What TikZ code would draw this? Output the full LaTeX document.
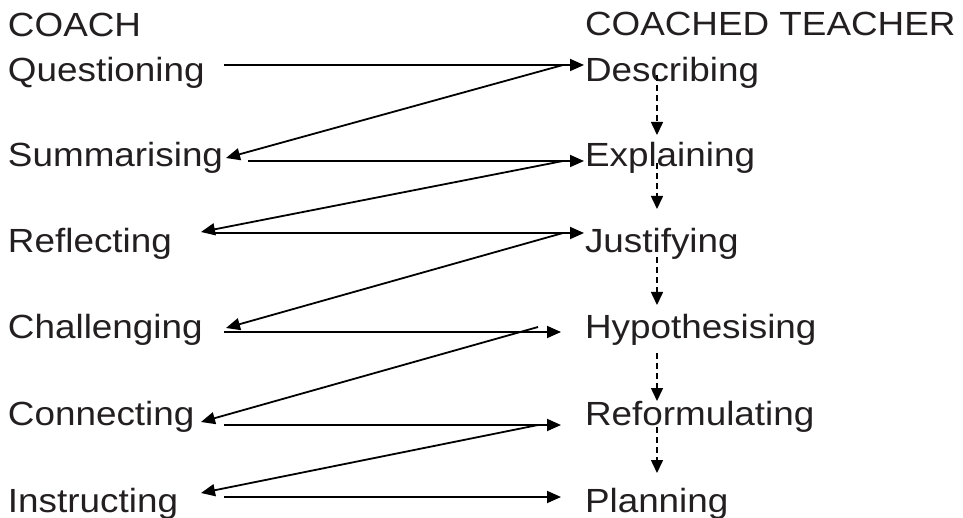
\documentclass[tikz,border=0pt]{standalone}
\usepackage{fontspec}
\setmainfont[FakeStretch=1.1]{Liberation Sans}
\usetikzlibrary{arrows.meta}
\definecolor{ink}{RGB}{35,31,32}
\begin{document}
\begin{tikzpicture}[x=1pt,y=-1pt,
  lbl/.style={anchor=base west,inner sep=0pt,outer sep=0pt,font=\fontsize{33.5}{40}\selectfont,text=ink},
  arr/.style={line width=1.8pt,-{Triangle[length=14pt,width=12pt]}},
  darr/.style={line width=1.6pt,dash pattern=on 6pt off 4pt,-{Triangle[length=13pt,width=12pt]}}]
\useasboundingbox (0,0) rectangle (963,518);
% left column
\node[lbl] (coach) at (8,37) {COACH};
\node[lbl] (ques) at (8,82) {Questioning};
\node[lbl] (summ) at (8,167) {Summarising};
\node[lbl] (refl) at (8,253) {Reflecting};
\node[lbl] (chal) at (8,338) {Challenging};
\node[lbl] (conn) at (8,425) {Connecting};
\node[lbl] (inst) at (8,512) {Instructing};
% right column
\node[lbl] (teach) at (585,36) {COACHED TEACHER};
\node[lbl] (desc) at (585,82) {Describing};
\node[lbl] (expl) at (585,167) {Explaining};
\node[lbl] (just) at (585,253) {Justifying};
\node[lbl] (hypo) at (585,338) {Hypothesising};
\node[lbl] (refo) at (585,425) {Reformulating};
\node[lbl] (plan) at (585,512) {Planning};
% arrow end points
\coordinate (qa) at (224,65);  \coordinate (da) at (584,65);  \coordinate (db) at (563,65);
\coordinate (sa) at (226,158); \coordinate (sb) at (248,161);
\coordinate (ea) at (584,161); \coordinate (eb) at (563,161);
\coordinate (ra) at (201,232); \coordinate (rb) at (215,233);
\coordinate (ja) at (584,233); \coordinate (jb) at (563,233);
\coordinate (ca) at (226,328); \coordinate (cb) at (224,332);
\coordinate (ha) at (561,332); \coordinate (hb) at (538,327);
\coordinate (na) at (201,422); \coordinate (nb) at (224,425);
\coordinate (fa) at (561,425); \coordinate (fb) at (538,425);
\coordinate (ia) at (201,493); \coordinate (ib) at (224,497);
\coordinate (pa) at (561,497);
% zig-zag arrows
\draw[arr] (qa) -- (da);
\draw[arr] (db) -- (sa);
\draw[arr] (sb) -- (ea);
\draw[arr] (eb) -- (ra);
\draw[arr] (rb) -- (ja);
\draw[arr] (jb) -- (ca);
\draw[arr] (cb) -- (ha);
\draw[arr] (hb) -- (na);
\draw[arr] (nb) -- (fa);
\draw[arr] (fb) -- (ia);
\draw[arr] (ib) -- (pa);
% dashed arrows
\coordinate (v1) at (657,75);  \coordinate (v1e) at (657,135);
\coordinate (v2) at (657,163); \coordinate (v2e) at (657,209);
\coordinate (v3) at (657,257); \coordinate (v3e) at (657,305);
\coordinate (v4) at (657,353); \coordinate (v4e) at (657,401);
\coordinate (v5) at (657,427); \coordinate (v5e) at (657,473);
\draw[darr] (v1) -- (v1e);
\draw[darr] (v2) -- (v2e);
\draw[darr] (v3) -- (v3e);
\draw[darr] (v4) -- (v4e);
\draw[darr] (v5) -- (v5e);
\end{tikzpicture}
\end{document}
